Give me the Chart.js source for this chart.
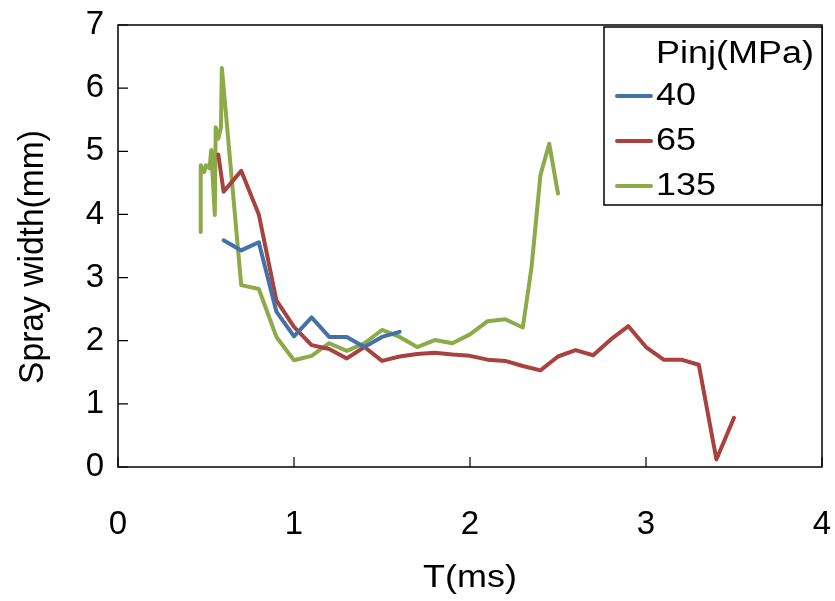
<!DOCTYPE html>
<html>
<head>
<meta charset="utf-8">
<script src="https://cdn.jsdelivr.net/npm/chart.js@4"></script>
<style>
  html, body { margin: 0; padding: 0; background: #fff; }
  #wrap { width: 835px; height: 601px; }
</style>
</head>
<body>
<div id="wrap"><canvas id="c1" width="835" height="601"></canvas></div>
<script>
// spray width vs time, three injection pressures
var t40 = [0.6, 0.7, 0.8, 0.9, 1.0, 1.1, 1.2, 1.3, 1.4, 1.5, 1.6];
var w40 = [3.59, 3.43, 3.56, 2.46, 2.07, 2.37, 2.06, 2.06, 1.90, 2.06, 2.14];

var t65 = [0.57, 0.6, 0.7, 0.8, 0.9, 1.0, 1.1, 1.2, 1.3, 1.4, 1.5, 1.6, 1.7, 1.8, 1.9, 2.0,
           2.1, 2.2, 2.3, 2.4, 2.5, 2.6, 2.7, 2.8, 2.9, 3.0, 3.1, 3.2, 3.3, 3.4, 3.5];
var w65 = [4.95, 4.36, 4.69, 4.0, 2.64, 2.22, 1.93, 1.87, 1.72, 1.90, 1.68, 1.75, 1.79, 1.81, 1.78, 1.76,
           1.70, 1.68, 1.60, 1.53, 1.75, 1.85, 1.77, 2.02, 2.23, 1.90, 1.70, 1.70, 1.62, 0.12, 0.78];

var t135 = [0.47, 0.47, 0.49, 0.50, 0.52, 0.53, 0.55, 0.555, 0.57, 0.585, 0.59,
            0.7, 0.8, 0.9, 1.0, 1.1, 1.2, 1.3, 1.4, 1.5, 1.6, 1.7, 1.8, 1.9, 2.0, 2.1, 2.2, 2.3,
            2.35, 2.4, 2.45, 2.5];
var w135 = [3.72, 4.78, 4.67, 4.78, 4.73, 5.02, 3.99, 5.38, 5.2, 5.38, 6.32,
            2.88, 2.82, 2.06, 1.69, 1.76, 1.96, 1.84, 1.96, 2.17, 2.06, 1.90, 2.01, 1.96, 2.10, 2.31, 2.34, 2.21,
            3.17, 4.62, 5.12, 4.33];

var seriesNames = ['40', '65', '135'];
var seriesColors = ['#4472A8', '#A9413E', '#8CAA48'];
var legendTitle = 'Pinj(MPa)';
var xTitle = 'T(ms)';
var yTitle = 'Spray width(mm)';

var FONT = "'Liberation Sans', Arial, sans-serif";
var FSIZE = 33;
var WIDEN = 1.16;  // text is a bit wide in this figure

function pts(xs, ys) {
	var out = [];
	for (var i = 0; i < xs.length; i++) out.push({x: xs[i], y: ys[i]});
	return out;
}

function mkSet(i, xs, ys) {
	return {
		label: seriesNames[i],
		data: pts(xs, ys),
		showLine: true,
		borderColor: seriesColors[i],
		backgroundColor: seriesColors[i],
		borderWidth: 4,
		pointRadius: 0,
		tension: 0,
		borderJoinStyle: 'round',
		borderCapStyle: 'round'
	};
}

function wideText(ctx, s, x, y, align) {
	ctx.save();
	ctx.translate(x, y);
	ctx.scale(WIDEN, 1);
	ctx.textAlign = align;
	ctx.fillText(s, 0, 0);
	ctx.restore();
}

// box frame, inward ticks, axis titles
var frame = {
	id: 'frame',
	afterDraw: function(chart) {
		var ctx = chart.ctx, a = chart.chartArea;
		var xs = chart.scales.x, ys = chart.scales.y;
		ctx.save();
		ctx.strokeStyle = '#000';
		ctx.lineWidth = 1.5;
		ctx.strokeRect(a.left, a.top, a.right - a.left, a.bottom - a.top);
		ctx.lineWidth = 1.2;
		ctx.beginPath();
		xs.ticks.forEach(function(t) {
			var px = xs.getPixelForValue(t.value);
			ctx.moveTo(px, a.bottom);
			ctx.lineTo(px, a.bottom - 10);
		});
		ys.ticks.forEach(function(t) {
			var py = ys.getPixelForValue(t.value);
			ctx.moveTo(a.left, py);
			ctx.lineTo(a.left + 10, py);
		});
		ctx.stroke();

		ctx.fillStyle = '#000';
		ctx.font = '31px ' + FONT;
		ctx.textBaseline = 'middle';
		wideText(ctx, xTitle, (a.left + a.right) / 2, 578, 'center');
		ctx.translate(33, 257);
		ctx.rotate(-Math.PI / 2);
		ctx.scale(1.05, 1.1);
		ctx.textAlign = 'center';
		ctx.font = '32px ' + FONT;
		ctx.fillText(yTitle, 0, 0);
		ctx.restore();
	}
};

// legend box in the top right corner
var boxLegend = {
	id: 'boxLegend',
	afterDraw: function(chart) {
		var ctx = chart.ctx;
		var bx = 604, by = 27, bw = 218, bh = 178;
		ctx.save();
		ctx.fillStyle = '#fff';
		ctx.fillRect(bx, by, bw, bh);
		ctx.strokeStyle = '#000';
		ctx.lineWidth = 1.5;
		ctx.strokeRect(bx, by, bw, bh);
		ctx.fillStyle = '#000';
		ctx.font = '31px ' + FONT;
		ctx.textBaseline = 'middle';
		wideText(ctx, legendTitle, 656, 54, 'left');
		chart.data.datasets.forEach(function(ds, i) {
			var yy = 96 + i * 45;
			ctx.strokeStyle = ds.borderColor;
			ctx.lineWidth = 4;
			ctx.lineCap = 'round';
			ctx.beginPath();
			ctx.moveTo(617, yy);
			ctx.lineTo(651, yy);
			ctx.stroke();
			ctx.fillStyle = '#000';
			wideText(ctx, ds.label, 656, yy, 'left');
		});
		ctx.restore();
	}
};

new Chart(document.getElementById('c1').getContext('2d'), {
	type: 'scatter',
	data: {
		datasets: [mkSet(0, t40, w40), mkSet(1, t65, w65), mkSet(2, t135, w135)]
	},
	options: {
		responsive: false,
		animation: false,
		layout: {padding: {left: 0, right: 13, top: 25, bottom: 0}},
		plugins: {legend: {display: false}, tooltip: {enabled: false}},
		scales: {
			x: {
				type: 'linear', min: 0, max: 4,
				grid: {display: false, drawTicks: false},
				border: {display: false},
				ticks: {stepSize: 1, color: '#000', padding: 38, font: {family: FONT, size: FSIZE}},
				afterFit: function(s) { s.height = 134; s.paddingLeft = 0; s.paddingRight = 0; }
			},
			y: {
				type: 'linear', min: 0, max: 7,
				grid: {display: false, drawTicks: false},
				border: {display: false},
				ticks: {stepSize: 1, color: '#000', padding: 14, font: {family: FONT, size: FSIZE}},
				afterFit: function(s) { s.width = 118; s.paddingTop = 0; s.paddingBottom = 0; }
			}
		}
	},
	plugins: [frame, boxLegend]
});
</script>
</body>
</html>
